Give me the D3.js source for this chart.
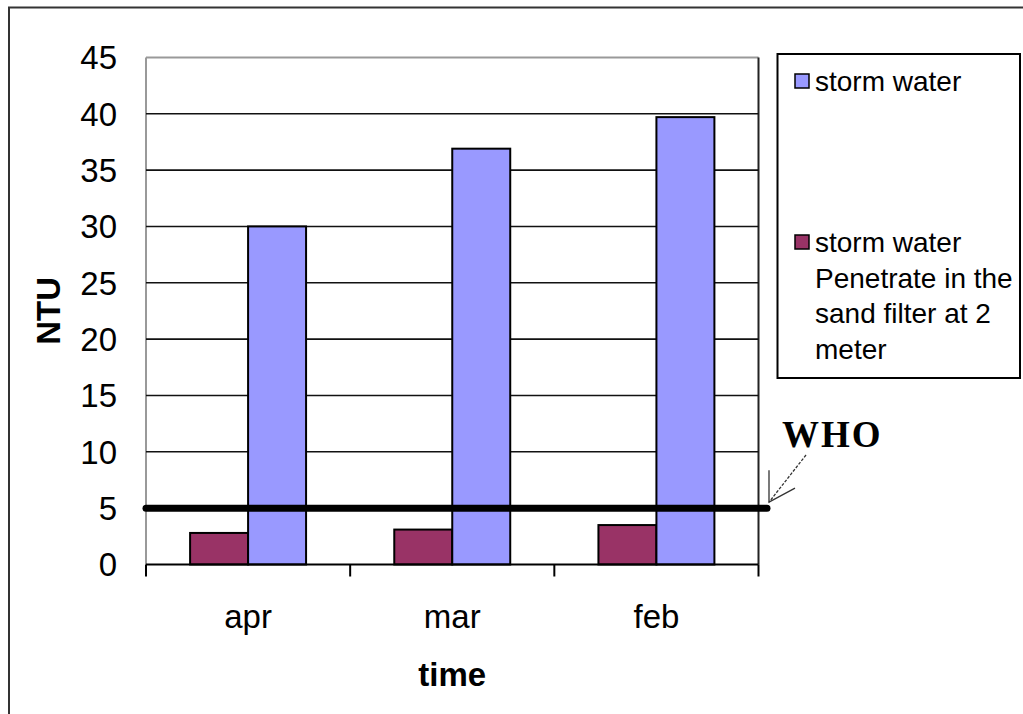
<!DOCTYPE html>
<html>
<head>
<meta charset="utf-8">
<script src="https://cdn.jsdelivr.net/npm/d3@7"></script>
<style>
  html, body { margin: 0; padding: 0; background: #fff; }
  svg { display: block; }
  text { fill: #000; }
</style>
</head>
<body>
<svg id="chart" width="1023" height="714"></svg>
<script>
// Turbidity (NTU) per month
const categories = ["apr", "mar", "feb"];
const stormWater = [30, 36.9, 39.7];
const penetrated = [2.8, 3.1, 3.5];
const yTicks = [0, 5, 10, 15, 20, 25, 30, 35, 40, 45];
const whoLimit = 5;
const legendLines = [["storm  water"], ["storm  water", "Penetrate in the", "sand filter at 2", "meter"]];
const seriesColors = ["#9999ff", "#993366"];

const sans = "'Liberation Sans', Arial, sans-serif";
const serif = "'Liberation Serif', 'Times New Roman', serif";

const svg = d3.select("#chart").style("font-family", sans);

// outer chart frame (runs off the right and bottom of the page)
svg.append("rect")
  .attr("x", 9).attr("y", 7.5).attr("width", 1100).attr("height", 800)
  .attr("fill", "none").attr("stroke", "#333").attr("stroke-width", 2);

const plot = { left: 146, right: 758.5, top: 57.4, bottom: 564.5 };

const y = d3.scaleLinear().domain([0, 45]).range([plot.bottom, plot.top]);
const x = d3.scaleBand().domain(categories)
  .range([plot.left, plot.right]).paddingInner(0.432).paddingOuter(0.216);
const xs = d3.scaleBand().domain(["penetrated", "storm"]).range([0, x.bandwidth()]);

// plot-area border
svg.append("line").attr("x1", plot.left).attr("x2", plot.right)
  .attr("y1", y(45)).attr("y2", y(45)).attr("stroke", "#999").attr("stroke-width", 2);
svg.append("line").attr("x1", plot.left).attr("x2", plot.left)
  .attr("y1", y(45)).attr("y2", y(0)).attr("stroke", "#999").attr("stroke-width", 2);
svg.append("line").attr("x1", plot.right).attr("x2", plot.right)
  .attr("y1", y(45)).attr("y2", y(0)).attr("stroke", "#222").attr("stroke-width", 2);

// horizontal gridlines
svg.append("g").selectAll("line")
  .data(yTicks.filter(t => t > 0 && t < 45))
  .join("line")
  .attr("x1", plot.left).attr("x2", plot.right)
  .attr("y1", d => y(d)).attr("y2", d => y(d))
  .attr("stroke", "#111").attr("stroke-width", 1.6);

// y tick labels
svg.append("g").selectAll("text")
  .data(yTicks)
  .join("text")
  .attr("x", 117).attr("y", d => y(d))
  .attr("dy", "0.36em")
  .attr("text-anchor", "end")
  .attr("font-size", 33)
  .text(d => d);

// bars
const groups = svg.append("g").selectAll("g")
  .data(categories)
  .join("g")
  .attr("transform", d => `translate(${x(d)},0)`);

groups.append("rect")
  .attr("x", xs("penetrated")).attr("width", xs.bandwidth())
  .attr("y", (d, i) => y(penetrated[i]))
  .attr("height", (d, i) => y(0) - y(penetrated[i]))
  .attr("fill", seriesColors[1]).attr("stroke", "#000").attr("stroke-width", 2);

groups.append("rect")
  .attr("x", xs("storm")).attr("width", xs.bandwidth())
  .attr("y", (d, i) => y(stormWater[i]))
  .attr("height", (d, i) => y(0) - y(stormWater[i]))
  .attr("fill", seriesColors[0]).attr("stroke", "#000").attr("stroke-width", 2);

// x axis with category-boundary ticks
const xAxis = svg.append("g");
xAxis.append("line").attr("x1", plot.left).attr("x2", plot.right)
  .attr("y1", y(0)).attr("y2", y(0)).attr("stroke", "#000").attr("stroke-width", 2);
const boundaries = categories.map(c => x(c) - x.step() * x.paddingOuter());
boundaries.push(plot.right);
xAxis.selectAll(".tick").data(boundaries).join("line")
  .attr("x1", d => d).attr("x2", d => d)
  .attr("y1", y(0)).attr("y2", y(0) + 12)
  .attr("stroke", "#000").attr("stroke-width", 2);
xAxis.selectAll("text").data(categories).join("text")
  .attr("x", d => x(d) + x.bandwidth() / 2)
  .attr("y", 628)
  .attr("text-anchor", "middle")
  .attr("font-size", 33)
  .text(d => d);

// axis titles
svg.append("text")
  .attr("x", (plot.left + plot.right) / 2).attr("y", 686)
  .attr("text-anchor", "middle").attr("font-weight", "bold").attr("font-size", 33)
  .text("time");
svg.append("text")
  .attr("transform", `translate(60,${(plot.top + plot.bottom) / 2}) rotate(-90)`)
  .attr("text-anchor", "middle").attr("font-weight", "bold").attr("font-size", 33)
  .text("NTU");

// WHO guideline line
svg.append("line")
  .attr("x1", plot.left).attr("x2", 767)
  .attr("y1", y(whoLimit)).attr("y2", y(whoLimit))
  .attr("stroke", "#000").attr("stroke-width", 7).attr("stroke-linecap", "round");

svg.append("text")
  .attr("x", 782).attr("y", 447)
  .style("font-family", serif)
  .attr("font-weight", "bold").attr("font-size", 37).attr("letter-spacing", 2)
  .text("WHO");

// annotation arrow
const tip = [769, y(whoLimit) - 6];
svg.append("line")
  .attr("x1", 806).attr("y1", 455).attr("x2", tip[0]).attr("y2", tip[1])
  .attr("stroke", "#333").attr("stroke-width", 1.3).attr("stroke-dasharray", "3,1.5");
svg.append("path")
  .attr("d", `M${tip[0]},${tip[1] - 32} L${tip[0]},${tip[1]} L${tip[0] + 26},${tip[1] - 14}`)
  .attr("fill", "none").attr("stroke", "#333").attr("stroke-width", 1.3);

// legend
const legend = svg.append("g");
legend.append("rect")
  .attr("x", 777.5).attr("y", 54).attr("width", 242.5).attr("height", 324)
  .attr("fill", "#fff").attr("stroke", "#000").attr("stroke-width", 2);
const legendTop = [81, 242];
legendLines.forEach((lines, i) => {
  legend.append("rect")
    .attr("x", 795).attr("y", legendTop[i] - 7).attr("width", 14).attr("height", 14)
    .attr("fill", seriesColors[i]).attr("stroke", "#000").attr("stroke-width", 1.5);
  legend.append("text")
    .attr("x", 815).attr("y", legendTop[i])
    .attr("font-size", 28)
    .selectAll("tspan").data(lines).join("tspan")
    .attr("x", 815).attr("dy", (d, j) => j === 0 ? "0.36em" : 35.5)
    .text(d => d);
});
</script>
</body>
</html>
